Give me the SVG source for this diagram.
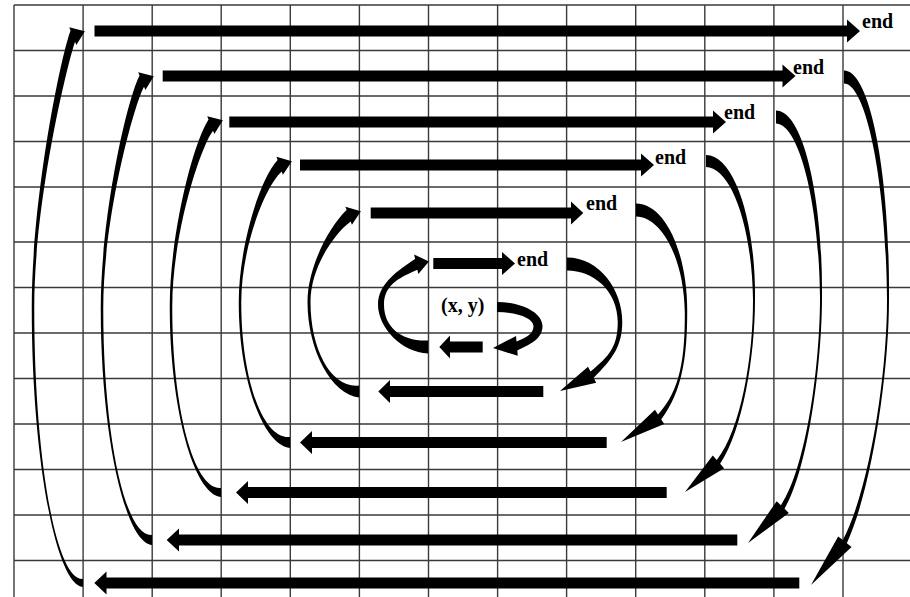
<svg xmlns="http://www.w3.org/2000/svg" width="910" height="597" viewBox="0 0 910 597">
<style>
.grid{stroke:#3a3a3a;stroke-width:1.4;fill:none}
.arr{fill:#000;stroke:none}
.lbl{font-family:"Liberation Serif","Times New Roman",serif;font-weight:bold;font-size:20px;fill:#000}
</style>
<rect x="0" y="0" width="910" height="597" fill="#fff"/>
<g id="grid">
<path class="grid" d="M14,5V597M83.1,5V597M152.2,5V597M221.2,5V597M290.3,5V597M359.4,5V597M428.5,5V597M497.6,5V597M566.6,5V597M635.7,5V597M704.8,5V597M773.9,5V597M843,5V597"/>
<path class="grid" d="M14,5H910M14,50.5H910M14,96H910M14,141.5H910M14,187H910M14,242H910M14,287.5H910M14,333H910M14,378.5H910M14,424H910M14,469.5H910M14,515H910M14,560.5H910"/>
</g>
<g id="connectors">
<!-- rightward arrows -->
<polygon class="arr" points="94.5,25.5 847,25.5 847,19.5 860,31 847,42.5 847,36.5 94.5,36.5"/>
<polygon class="arr" points="162.7,70.5 782.5,70.5 782.5,64.5 795.5,76 782.5,87.5 782.5,81.5 162.7,81.5"/>
<polygon class="arr" points="229.3,116.5 713,116.5 713,110.5 726,122 713,133.5 713,127.5 229.3,127.5"/>
<polygon class="arr" points="300,159.5 641,159.5 641,153.5 654,165 641,176.5 641,170.5 300,170.5"/>
<polygon class="arr" points="370.7,207.5 571,207.5 571,201.5 583.3,213 571,224.5 571,218.5 370.7,218.5"/>
<polygon class="arr" points="433.3,258 502,258 502,252 515,263.5 502,275 502,269 433.3,269"/>
<!-- leftward arrows -->
<polygon class="arr" points="482.7,341.5 450,341.5 450,335.5 439.3,347 450,358.5 450,352.5 482.7,352.5"/>
<polygon class="arr" points="543.3,386 390,386 390,380 378.3,391.5 390,403 390,397 543.3,397"/>
<polygon class="arr" points="606.7,437 312,437 312,431 300,442.5 312,454 312,448 606.7,448"/>
<polygon class="arr" points="666.7,487 248,487 248,481 236,492.5 248,504 248,498 666.7,498"/>
<polygon class="arr" points="737.3,534.5 179,534.5 179,528.5 166.7,540 179,551.5 179,545.5 737.3,545.5"/>
<polygon class="arr" points="799.3,577.5 106.5,577.5 106.5,571.5 94.3,583 106.5,594.5 106.5,588.5 799.3,588.5"/>
<!-- left curved arrows (upward) -->
<path class="arr" d="M83,587 C56,585 31.75,459 31.75,307.5 C31.75,198.95 60.3,58.17 70.55,30.56 L69.24,27.31 L84.85,31.25 L76.36,44.93 L75.05,41.68 C68.2,61.05 34.25,198.95 34.25,307.5 C34.25,459 56,581 83,579 Z"/>
<path class="arr" d="M152,545 C125,542.5 100.75,435.8 100.75,308.5 C100.75,217.55 126.35,101.22 139.55,75.56 L138.24,72.31 L153.85,76.25 L145.36,89.93 L144.05,86.68 C133.77,105.16 103.25,217.55 103.25,308.5 C103.25,435.8 125,537.5 152,535 Z"/>
<path class="arr" d="M221,497 C194,494.75 169.75,408.91 169.75,306.75 C169.75,234.1 193.02,143.19 208.55,119.56 L207.24,116.31 L222.85,120.25 L214.36,133.93 L213.05,130.68 C199.9,148.01 172.25,234.1 172.25,306.75 C172.25,408.91 194,490.25 221,488 Z"/>
<path class="arr" d="M290,448 C263,445.25 238.75,379.39 238.75,302.25 C238.75,247.65 259.01,180.47 277.61,160.12 L276.41,156.83 L291.88,161.31 L282.91,174.69 L281.71,171.4 C264.95,186.41 241.25,247.65 241.25,302.25 C241.25,379.39 263,439.75 290,437 Z"/>
<path class="arr" d="M359,397.5 C332,394.5 307.5,351.11 307.5,301.75 C307.5,267.35 329.11,226.68 346.61,210.12 L345.41,206.83 L360.88,211.31 L351.91,224.69 L350.71,221.4 C334.51,233.12 310.5,267.35 310.5,301.75 C310.5,351.11 332,388.5 359,385.5 Z"/>
<path class="arr" d="M428,353.5 C402,352.5 378,327.9 378,304.5 C378,283 398.72,269.96 415.1,258.91 L414.16,254.51 L428.96,261.59 L418.32,274.07 L417.38,269.67 C402.58,276.62 384,283 384,304.5 C384,327.9 402,341.5 428,340.5 Z"/>
<!-- right curved arrows (downward) -->
<path class="arr" d="M844,70.5 C871,70.5 890,177.35 889,300 C888.9,372.5 872.06,488.17 846.83,543.2 L851.56,546.89 L811,585 L838.16,536.43 L842.89,540.12 C870.26,487.29 887.1,372.5 887,300 C886,177.35 865.5,83.5 844,83.5 Z"/>
<path class="arr" d="M776,110.5 C803.5,110.5 823,198.45 822,298 C821.9,360.7 809.03,466.86 784.54,508.77 L788.85,512.93 L748,543 L776.63,501.13 L780.94,505.29 C807.33,465.8 820.1,360.7 820,298 C819,198.45 798,123.5 776,123.5 Z"/>
<path class="arr" d="M706,155 C735,155 756,223.55 755,300 C754.9,356.66 742.76,430.12 720.11,463.75 L724.13,468.21 L685,492 L712.75,455.57 L716.77,460.03 C741.14,428.94 753.1,356.66 753,300 C752,223.55 730,167 706,167 Z"/>
<path class="arr" d="M636,203.5 C666.5,203.5 688,256.35 687.2,313 C687.1,354.58 682.85,390.78 661.21,419.47 L664.21,424.08 L621,442 L654.95,409.82 L657.95,414.43 C681.31,389.5 684.9,354.58 684.8,313 C684,256.35 660.5,216.5 636,216.5 Z"/>
<path class="arr" d="M567,257.5 C599.5,257.5 622.5,290.1 622.25,322 C622.25,345.7 612.81,358.82 593.67,377.78 L596.17,382.68 L560,391 L587.99,366.64 L590.49,371.54 C609.99,355.7 617.75,345.7 617.75,322 C617.5,290.1 593,270.5 567,270.5 Z"/>
<path class="arr" d="M497,302 C522,302 542.5,312.8 542.5,326 C542.5,339.2 529.8,344.6 517.3,350.39 L517.78,355.87 L493,348 L516.04,335.95 L516.52,341.43 C526.27,337.58 533.5,334 533.5,326 C533.5,318.3 517,312 497,312 Z"/>
</g>
<g id="start"><text class="lbl" x="441" y="312">(x, y)</text></g>
<g id="end-1"><text class="lbl" x="862" y="28">end</text></g>
<g id="end-2"><text class="lbl" x="793" y="73.5">end</text></g>
<g id="end-3"><text class="lbl" x="724" y="119">end</text></g>
<g id="end-4"><text class="lbl" x="655" y="164">end</text></g>
<g id="end-5"><text class="lbl" x="586" y="210">end</text></g>
<g id="end-6"><text class="lbl" x="517" y="265.5">end</text></g>
</svg>
